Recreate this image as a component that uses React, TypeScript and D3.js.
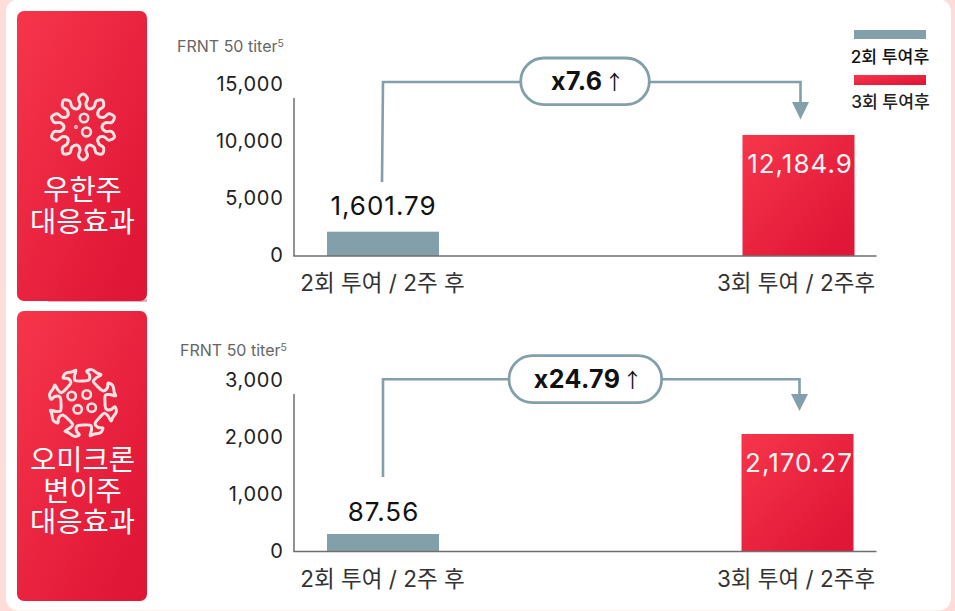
import React from "react";
import * as d3 from "d3";

const W = 955;
const H = 611;
const FONT = 'Inter, "Noto Sans CJK KR", sans-serif';
const GREY = "#839fa9";
const INK = "#222222";

// ---- data ----
const wuhanCategories = ["2회 투여 / 2주 후", "3회 투여 / 2주후"];
const wuhanTicks = [0, 5000, 10000, 15000];
const wuhanValueLabels = ["1,601.79", "12,184.9"];
// drawn bar tops in axis units (the source bars are not drawn to the printed value)
const wuhanBarLevels = [2044, 10530];
const wuhanFold = "x7.6";
const wuhanTitle = ["우한주", "대응효과"];

const omicronCategories = ["2회 투여 / 2주 후", "3회 투여 / 2주후"];
const omicronTicks = [0, 1000, 2000, 3000];
const omicronValueLabels = ["87.56", "2,170.27"];
const omicronBarLevels = [298, 2053];
const omicronFold = "x24.79";
const omicronTitle = ["오미크론", "변이주", "대응효과"];

const legendLabels = ["2회 투여후", "3회 투여후"];

// ---- layout ----
const panels = [
  {
    categories: wuhanCategories, ticks: wuhanTicks, labels: wuhanValueLabels, levels: wuhanBarLevels,
    fold: wuhanFold, title: wuhanTitle, icon: "round",
    max: 15000, y0: 255, yMax: 84, axisTop: 98, base: 256,
    xs: [383, 798.5],
    boxTop: 11, boxBottom: 301, titleY: [189, 221], iconCy: 127,
    yTitleX: 177, yTitleY: 52,
    pill: [520.7, 649.3, 58, 104.7], lineY: 82, stemBottom: 182, stemX: 382, arrowX: 800.5, arrowTop: 102, arrowTip: 119.5,
    labelDy: [-26, 29], catY: 282,
  },
  {
    categories: omicronCategories, ticks: omicronTicks, labels: omicronValueLabels, levels: omicronBarLevels,
    fold: omicronFold, title: omicronTitle, icon: "spike",
    max: 3000, y0: 551, yMax: 380, axisTop: 394, base: 551.5,
    xs: [383, 797.5],
    boxTop: 311, boxBottom: 601, titleY: [459, 490, 521], iconCy: 403,
    yTitleX: 180, yTitleY: 356,
    pill: [509, 661.7, 355.7, 402.7], lineY: 379.3, stemBottom: 477, stemX: 383, arrowX: 799.5, arrowTop: 394, arrowTip: 411,
    labelDy: [-23, 29], catY: 578,
  },
];

const BAR_W = 112;

function roundVirusPath(cx: number, cy: number) {
  const lobes = 10;
  const step = (2 * Math.PI) / lobes;
  const pts: [number, number][] = [];
  for (let i = 0; i < lobes; i++) {
    const a = i * step;
    pts.push([a - step * 0.5, 19]);
    pts.push([a - step * 0.2, 23]);
    pts.push([a - step * 0.25, 29]);
    pts.push([a, 33]);
    pts.push([a + step * 0.25, 29]);
    pts.push([a + step * 0.2, 23]);
  }
  const line = d3.lineRadial().curve(d3.curveCatmullRomClosed.alpha(0.5));
  return { d: line(pts) as string, transform: `translate(${cx},${cy})` };
}

function spikeVirusPath(cx: number, cy: number) {
  const spikes = 8;
  const step = (2 * Math.PI) / spikes;
  const pts: [number, number][] = [];
  for (let i = 0; i < spikes; i++) {
    const a = i * step + 0.35;
    pts.push([a - step * 0.5, 22]);
    pts.push([a - step * 0.12, 24]);
    pts.push([a - step * 0.16, 29]);
    pts.push([a - step * 0.3, 32]);
    pts.push([a - step * 0.12, 34.5]);
    pts.push([a + step * 0.14, 33]);
    pts.push([a + step * 0.28, 33.5]);
    pts.push([a + step * 0.16, 28]);
    pts.push([a + step * 0.12, 24]);
  }
  const line = d3.lineRadial().curve(d3.curveCatmullRomClosed.alpha(0.5));
  return { d: line(pts) as string, transform: `translate(${cx},${cy})` };
}

function Panel({ p, idx }: { p: (typeof panels)[number]; idx: number }) {
  const y = d3.scaleLinear().domain([0, p.max]).range([p.y0, p.yMax]);
  const x = d3.scalePoint<string>().domain(["a", "b"]).range(p.xs as [number, number]);
  const keys = ["a", "b"];
  const [pl, pr, pt, pb] = p.pill;
  const link = d3.path();
  link.moveTo(p.stemX, p.stemBottom);
  link.lineTo(383, p.lineY);
  link.lineTo(p.arrowX, p.lineY);
  link.lineTo(p.arrowX, p.arrowTop + 2);
  const arrow = d3.path();
  arrow.moveTo(p.arrowX - 8.5, p.arrowTop);
  arrow.lineTo(p.arrowX + 8.5, p.arrowTop);
  arrow.lineTo(p.arrowX, p.arrowTip);
  arrow.closePath();
  const icon = p.icon === "round" ? roundVirusPath(83, p.iconCy) : spikeVirusPath(83, p.iconCy);
  const circles = p.icon === "round"
    ? [[84, 118, 4.2], [86.5, 132, 4.4], [76, 127, 0.6]]
    : [[71.7, 396, 4.2], [86.7, 394.5, 4.2], [77.7, 409.3, 4.2], [91.7, 407.7, 4.2]];
  return (
    <g fontFamily={FONT}>
      <rect x={48} y={p.boxBottom - 2} width={99} height={3} fill="#c9a9ad" opacity={idx === 0 ? 0.8 : 0} />
      <rect x={17} y={p.boxTop} width={130} height={p.boxBottom - p.boxTop} rx={7} fill="url(#redGrad)" />
      <path d={icon.d} transform={icon.transform} fill="none" stroke="#f8e3e3" strokeWidth={3} strokeLinejoin="round" />
      {circles.map((c, i) => (
        <circle key={i} cx={c[0]} cy={c[1]} r={c[2]} fill="none" stroke="#f8e3e3" strokeWidth={2.6} />
      ))}
      {p.title.map((t, i) => (
        <text key={t} x={82.5} y={p.titleY[i]} textAnchor="middle" dominantBaseline="central" fontSize={28.5} fill="#ffffff">{t}</text>
      ))}

      <text x={p.yTitleX} y={p.yTitleY} fontSize={16} fill="#666666">
        FRNT 50 titer<tspan fontSize={10.5} dy={-5}>5</tspan>
      </text>

      {p.ticks.map((t) => (
        <text key={t} x={283.5} y={y(t) + 0.3} textAnchor="end" dominantBaseline="central" fontSize={20} letterSpacing={0.7} fill={INK}>
          {d3.format(",")(t)}
        </text>
      ))}
      <line x1={294} x2={294} y1={p.axisTop} y2={p.base} stroke="#777777" strokeWidth={1.6} />

      {keys.map((k, i) => (
        <rect
          key={k}
          x={(x(k) as number) - BAR_W / 2}
          y={y(p.levels[i])}
          width={BAR_W}
          height={p.base - y(p.levels[i])}
          fill={i === 0 ? GREY : "url(#redGrad)"}
        />
      ))}
      <line x1={293.2} x2={876.5} y1={p.base} y2={p.base} stroke="#6f6f6f" strokeWidth={1.6} />

      {keys.map((k, i) => (
        <text
          key={k}
          x={(x(k) as number) + (i === 0 ? 0.5 : 1.5)}
          y={y(p.levels[i]) + p.labelDy[i]}
          textAnchor="middle"
          dominantBaseline="central"
          fontSize={26}
          letterSpacing={1}
          fill={i === 0 ? "#111111" : "#fff4f4"}
        >
          {p.labels[i]}
        </text>
      ))}

      {p.categories.map((c, i) => (
        <text key={c} x={i === 0 ? 382.5 : 796} y={p.catY} textAnchor="middle" dominantBaseline="central" fontSize={22.5} fill="#333333">{c}</text>
      ))}

      <path d={link.toString()} fill="none" stroke={GREY} strokeWidth={2.6} />
      <path d={arrow.toString()} fill={GREY} />
      <rect x={pl} y={pt} width={pr - pl} height={pb - pt} rx={(pb - pt) / 2} fill="#ffffff" stroke={GREY} strokeWidth={2.8} />
      <text x={(pl + pr) / 2 + 3} y={(pt + pb) / 2} textAnchor="middle" dominantBaseline="central" fontSize={25} letterSpacing={0.4} fill="#111111">
        <tspan fontWeight={700}>{p.fold}</tspan>
        <tspan fontSize={20} dx={2} fontFamily='"Noto Sans CJK KR"'>↑</tspan>
      </text>
    </g>
  );
}

export default function App() {
  return (
    <svg
      width={W}
      height={H}
      viewBox={`0 0 ${W} ${H}`}
      style={{ position: "fixed", left: 0, top: 0, display: "block" }}
    >
      <defs>
        <linearGradient id="redGrad" x1="0" y1="0" x2="1" y2="1">
          <stop offset="0" stopColor="#f6364b" />
          <stop offset="0.85" stopColor="#e11737" />
          <stop offset="1" stopColor="#e01636" />
        </linearGradient>
      </defs>
      <rect width={W} height={H} fill="#fddcd9" />
      <rect x={6} y={-0.5} width={945} height={611} rx={12} fill="#ffffff" />
      {panels.map((p, i) => (
        <Panel key={i} p={p} idx={i} />
      ))}
      <g fontFamily={FONT} fontSize={17.2} fontWeight={500} fill="#111111" textAnchor="middle">
        <rect x={854} y={30} width={72} height={9} fill={GREY} />
        <text x={890} y={56} dominantBaseline="central">{legendLabels[0]}</text>
        <rect x={854} y={75} width={72} height={10} fill="url(#redGrad)" />
        <text x={890.5} y={101} dominantBaseline="central" fill="#222222">{legendLabels[1]}</text>
      </g>
    </svg>
  );
}
